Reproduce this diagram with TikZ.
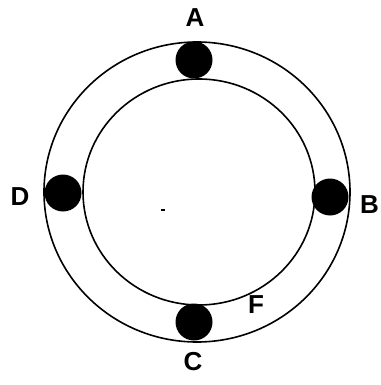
\documentclass[tikz,border=0pt]{standalone}
\usepackage{fontspec}
\setmainfont{Liberation Sans}
\begin{document}
\begin{tikzpicture}[x=1pt,y=-1pt,
  ring/.style={draw=black,line width=1.6pt},
  ball/.style={circle,fill=black,minimum size=37pt,inner sep=0pt},
  lbl/.style={font=\fontsize{26}{26}\selectfont\bfseries,inner sep=0pt}]
\useasboundingbox (0,0) rectangle (380,385);
\draw[ring] (197,192) ellipse [x radius=153, y radius=150];
\draw[ring] (199,192) ellipse [x radius=116, y radius=113];
\node[ball] (A) at (194,60) {};
\node[ball] (B) at (330,197) {};
\node[ball] (C) at (194,322) {};
\node[ball] (D) at (63,193) {};
\node[lbl] (la) at (195,18) {A};
\node[lbl,anchor=east] (lb) at (379,205) {B};
\node[lbl] (lc) at (193,362) {C};
\node[lbl] (ld) at (20,197) {D};
\node[lbl] (lf) at (256,305) {F};
\draw[line width=1.2pt] (161,210) -- (165,210);
\end{tikzpicture}
\end{document}
